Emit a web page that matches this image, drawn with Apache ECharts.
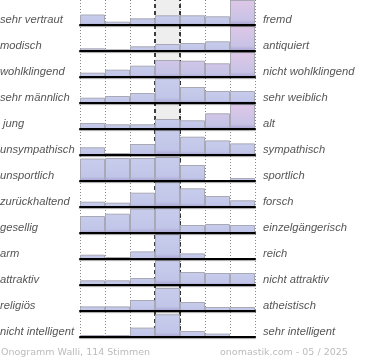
<!DOCTYPE html>
<html>
<head>
<meta charset="utf-8">
<script src="https://cdn.jsdelivr.net/npm/echarts@6/dist/echarts.min.js"></script>
<style>html,body{margin:0;padding:0;background:#fff}#c{width:370px;height:360px}</style>
</head>
<body>
<div id="c"></div>
<script>
// ---- data ----
const columns = ['1','2','3','4','5','6','7'];
const leftLabels = ['sehr vertraut','modisch','wohlklingend','sehr männlich',' jung','unsympathisch','unsportlich','zurückhaltend','gesellig','arm','attraktiv','religiös','nicht intelligent'];
const rightLabels = ['fremd','antiquiert','nicht wohlklingend','sehr weiblich','alt','sympathisch','sportlich','forsch','einzelgängerisch','reich','nicht attraktiv','atheistisch','sehr intelligent'];
const vertraut     = [10.5, 3.3, 6.7, 9.7, 9.7, 8.7, 25];
const modisch      = [2.7, 1.7, 4.7, 7, 8, 9.7, 25];
const wohlklingend = [4.3, 7.3, 11.3, 17, 16.3, 13.7, 25];
const maennlich    = [5.3, 7, 10, 25, 16, 12, 12];
const jung         = [6, 4.7, 4.7, 10, 8.7, 15.7, 25];
const unsympathisch= [7.7, 2, 11, 25, 18.3, 14.6, 11.6];
const unsportlich  = [22.5, 23, 23, 24, 16, 1, 3];
const zurueck      = [5.3, 4.3, 14.3, 25, 18.7, 11, 6.7];
const gesellig     = [17, 19.3, 24.5, 25, 8, 9, 8];
const arm          = [4.3, 2, 7.6, 25, 5.6, 0, 0];
const attraktiv    = [4.7, 4.7, 7, 25, 13, 12, 12];
const religioes    = [4.6, 4.6, 11, 23, 9, 4, 4];
const intelligent  = [2, 2, 9.4, 22.7, 6, 3.4, 0];
const rows = [vertraut, modisch, wohlklingend, maennlich, jung, unsympathisch, unsportlich, zurueck, gesellig, arm, attraktiv, religioes, intelligent];
const footerLeft = 'Onogramm Walli, 114 Stimmen';
const footerRight = 'onomastik.com - 05 / 2025';

// ---- style / layout ----
const ROW_H = 26, BAR_H = 25, LEFT = 80, WIDTH = 175;
const pinkCells = {'0-6':1,'1-6':1,'2-6':1,'4-6':1,'2-3':0.5,'2-4':0.5,'2-5':0.5,'4-5':0.5};
function grad(p){
  const top = p >= 1 ? '#dfc7e7' : (p > 0 ? '#d2c6e8' : '#c8cdec');
  const mid = p >= 1 ? '#c8c3e6' : (p > 0 ? '#c3c3e6' : '#c1c5e8');
  return new echarts.graphic.LinearGradient(0,0,0,1,[
    {offset:0,color:top},{offset:0.8,color:mid},{offset:1,color:'#a7a1d0'}]);
}
const lblFont = {fontFamily:'Liberation Sans, Arial, sans-serif', fontSize:11.2, fontStyle:'italic', fontWeight:'normal', color:'#555', lineHeight:12};

const grids = [{left:LEFT, width:WIDTH, top:0, height:ROW_H*13-1}];
const xAxes = [{gridIndex:0, type:'value', min:0, max:7, interval:1, axisLine:{show:false}, axisTick:{show:false}, axisLabel:{show:false},
  splitLine:{show:true, lineStyle:{color:'#888', type:[1,2], width:1}}}];
const yAxes = [{gridIndex:0, type:'value', min:0, max:1, show:false}];
const series = [
  {type:'line', xAxisIndex:0, yAxisIndex:0, data:[], z:0, silent:true,
    markArea:{silent:true, itemStyle:{color:'#eeeeee'}, data:[[{xAxis:3},{xAxis:4}]]}},
  {type:'line', xAxisIndex:0, yAxisIndex:0, data:[], z:20, silent:true,
    markLine:{silent:true, symbol:'none', label:{show:false}, lineStyle:{color:'#000', type:[4,3], width:1.5},
      data:[{xAxis:3},{xAxis:4}]}}
];
const titles = [];
rows.forEach((vals, i) => {
  const gi = i + 1;
  const top = i*ROW_H;
  const base = top + BAR_H;
  grids.push({left:LEFT, width:WIDTH, top:top, height:BAR_H});
  xAxes.push({gridIndex:gi, type:'category', data:columns, axisTick:{show:false}, axisLabel:{show:false},
    axisLine:{show:true, lineStyle:{color:'#000', width:2, shadowColor:'rgba(0,0,0,0.35)', shadowOffsetY:1, shadowBlur:1}}, z:15});
  yAxes.push({gridIndex:gi, type:'value', min:0, max:BAR_H, show:false});
  series.push({type:'bar', xAxisIndex:gi, yAxisIndex:gi, barCategoryGap:'0%', z:5, silent:true,
    data: vals.map((v, j) => ({value:v, itemStyle:{color:grad(pinkCells[i+'-'+j]||0), borderColor:'#a9a9b6', borderWidth:1}}))});
  titles.push({text:leftLabels[i], left:0, top:base-11, padding:0, textStyle:lblFont});
  titles.push({text:rightLabels[i], left:263, top:base-11, padding:0, textStyle:lblFont});
});
const footFont = {fontFamily:'DejaVu Sans, sans-serif', fontSize:9.5, fontWeight:'normal', color:'#bbb', lineHeight:12};
titles.push({text:footerLeft, left:1, top:347, padding:0, textStyle:footFont});
titles.push({text:footerRight, left:220, top:347, padding:0, textStyle:footFont});

const chart = echarts.init(document.getElementById('c'), null, {renderer:'canvas'});
chart.setOption({animation:false, title:titles, grid:grids, xAxis:xAxes, yAxis:yAxes, series:series});
</script>
</body>
</html>
